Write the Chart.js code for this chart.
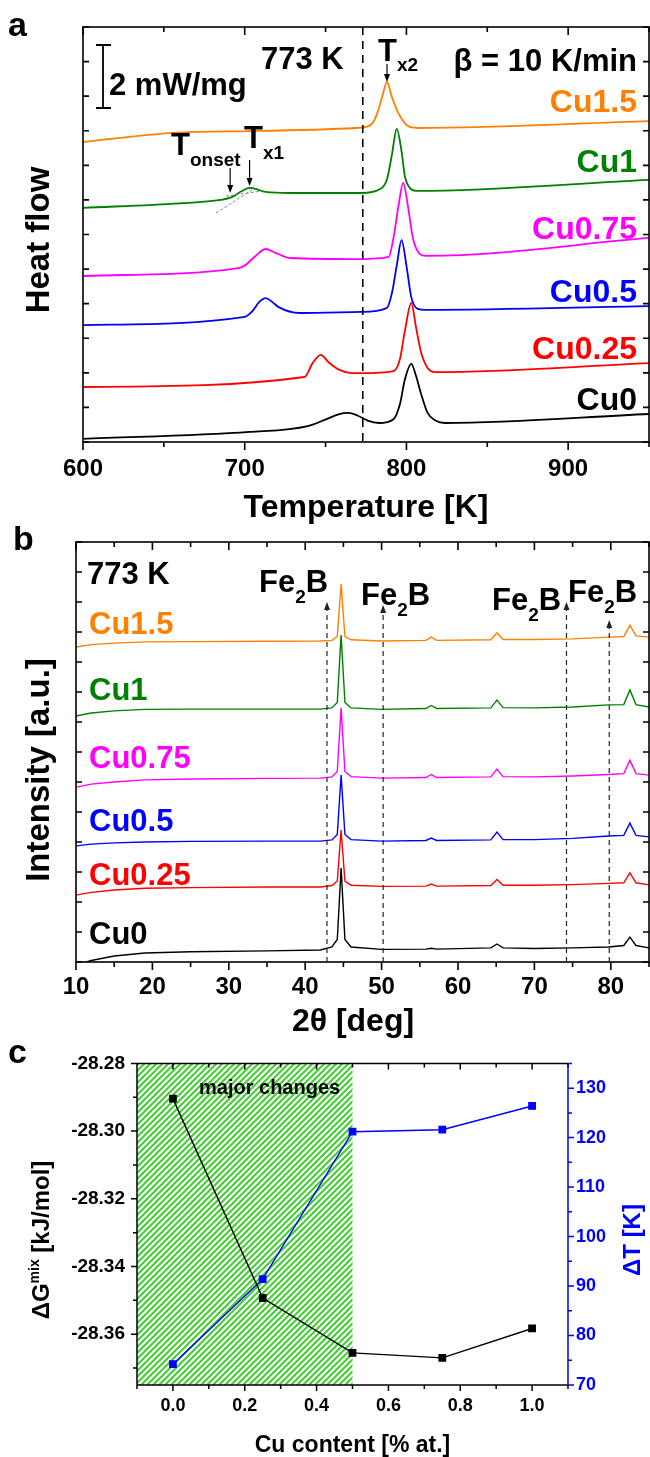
<!DOCTYPE html>
<html>
<head>
<meta charset="utf-8">
<script src="https://cdn.jsdelivr.net/npm/chart.js@4.4.1/dist/chart.umd.min.js"></script>
<style>
  body { margin: 0; background: #fff; width: 650px; height: 1457px; position: relative; overflow: hidden; }
  canvas { position: absolute; left: 0; }
  #dsc { top: 0; }
  #xrd { top: 515px; }
  #gibbs { top: 1040px; }
</style>
</head>
<body>
<canvas id="dsc" width="650" height="535"></canvas>
<canvas id="xrd" width="650" height="535"></canvas>
<canvas id="gibbs" width="650" height="417"></canvas>
<script>
// ---- panel a: DSC curves, [temperature K, heat flow (offset units)]
const dscCu15 = [[600,8.68],[656,8.94],[703,8.99],[769,9.08],[778,9.17],[782,9.51],[785,9.98],[788,10.41],[791,9.98],[795,9.51],[799,9.22],[802,9.11],[808,9.08],[950,9.28]]
const dscCu1 = [[600,6.77],[660,6.90],[685,7.00],[692,7.08],[698,7.25],[703,7.35],[708,7.30],[713,7.23],[728,7.20],[772,7.20],[784,7.32],[788,7.60],[791,8.30],[794,9.05],[797,8.40],[799,7.70],[802,7.35],[806,7.26],[950,7.58]]
const dscCu075 = [[600,4.80],[695,5.02],[700,5.10],[706,5.35],[713,5.58],[719,5.47],[728,5.32],[772,5.29],[789,5.35],[792,5.90],[795,6.80],[798,7.49],[801,6.80],[804,5.90],[808,5.45],[812,5.38],[950,5.90]]
const dscCu05 = [[600,3.38],[700,3.62],[705,3.80],[709,4.05],[713,4.16],[717,4.05],[721,3.90],[734,3.73],[772,3.76],[788,3.88],[791,4.30],[794,5.10],[797,5.84],[800,5.10],[803,4.19],[807,3.85],[812,3.82],[950,3.93]]
const dscCu025 = [[600,1.59],[737,1.88],[742,2.28],[747,2.52],[752,2.30],[758,2.10],[765,2.00],[772,1.99],[792,2.05],[796,2.40],[799,3.20],[803,4.02],[806,3.30],[809,2.60],[813,2.15],[818,2.02],[950,2.28]]
const dscCu0 = [[600,0.09],[703,0.29],[739,0.46],[751,0.67],[758,0.80],[764,0.84],[770,0.76],[776,0.62],[783,0.55],[792,0.66],[796,1.10],[799,1.80],[803,2.26],[806,1.90],[809,1.40],[813,0.85],[818,0.62],[824,0.55],[950,0.81]]
const dscTempTicks = [600, 700, 800, 900]
const annealTemp = 773

// ---- panel b: XRD patterns, 2theta and intensity (offset units)
const xrdAngles = [10, 12, 15, 19, 25, 35, 42, 43.5, 44.2, 44.7, 45.2, 46, 50, 55.8, 56.5, 57.2, 64.3, 65.1, 65.9, 70, 75, 79.7, 81.7, 82.5, 83.3, 85]
const xrdCu15 = [10.5, 10.58, 10.63, 10.67, 10.68, 10.69, 10.70, 10.72, 10.85, 12.6, 10.85, 10.74, 10.70, 10.72, 10.83, 10.72, 10.74, 10.97, 10.75, 10.75, 10.77, 10.83, 10.85, 11.23, 10.87, 10.83]
const xrdCu1 = [8.2, 8.3, 8.37, 8.42, 8.43, 8.43, 8.43, 8.47, 8.65, 10.9, 8.65, 8.47, 8.42, 8.45, 8.55, 8.45, 8.47, 8.73, 8.48, 8.47, 8.5, 8.57, 8.58, 9.07, 8.58, 8.5]
const xrdCu075 = [5.83, 5.93, 6.0, 6.07, 6.1, 6.12, 6.13, 6.17, 6.35, 8.47, 6.35, 6.18, 6.13, 6.15, 6.25, 6.15, 6.17, 6.43, 6.18, 6.17, 6.2, 6.25, 6.28, 6.73, 6.28, 6.23]
const xrdCu05 = [3.87, 3.93, 3.97, 4.0, 4.02, 4.03, 4.03, 4.07, 4.25, 6.23, 4.25, 4.08, 4.03, 4.05, 4.13, 4.05, 4.07, 4.33, 4.08, 4.08, 4.12, 4.2, 4.22, 4.63, 4.22, 4.17]
const xrdCu025 = [2.23, 2.32, 2.4, 2.46, 2.48, 2.5, 2.5, 2.55, 2.7, 4.4, 2.7, 2.56, 2.52, 2.53, 2.6, 2.53, 2.55, 2.75, 2.56, 2.56, 2.58, 2.62, 2.64, 2.97, 2.64, 2.57]
const xrdCu0 = [-0.1, 0.05, 0.2, 0.3, 0.34, 0.37, 0.4, 0.5, 0.75, 3.13, 0.75, 0.5, 0.42, 0.43, 0.46, 0.43, 0.47, 0.6, 0.47, 0.45, 0.47, 0.5, 0.55, 0.83, 0.55, 0.47]
const fe2bAngles = [42.85, 50.2, 74.2, 79.8]
const fe2bTips = [12.0, 11.9, 12.0, 11.4]
const xrdAngleTicks = [10, 20, 30, 40, 50, 60, 70, 80]

// ---- panel c: mixing enthalpy and delta T vs Cu content
const cuContent = [0, 0.25, 0.5, 0.75, 1.0]
const gibbsMix = [-28.2904, -28.3493, -28.3655, -28.3670, -28.3583]
const deltaT = [74.2, 91.4, 121.2, 121.6, 126.4]
const majorChangeRange = [-0.1, 0.5]
const cuTicks = [0, 0.2, 0.4, 0.6, 0.8, 1.0]
const gibbsTicks = [-28.36, -28.34, -28.32, -28.30, -28.28]
const deltaTTicks = [70, 80, 90, 100, 110, 120, 130]

const FONT = "'Liberation Sans', Arial, sans-serif"
Chart.defaults.font.family = FONT
Chart.defaults.font.weight = 'bold'
Chart.defaults.color = '#000'
Chart.defaults.animation = false

const ORANGE = '#ff8000', GREEN = '#008000', MAGENTA = '#ff00ff', BLUE = '#0000ff', RED = '#ff0000', BLACK = '#000000'

function range(a, b, step) {
    const out = []
    for (let v = a; v <= b + 1e-9; v += step) out.push(+v.toFixed(6))
    return out
}

function text(ctx, str, x, y, size, color = '#000', align = 'left') {
    ctx.font = `bold ${size}px ${FONT}`
    ctx.fillStyle = color
    ctx.textAlign = align
    ctx.textBaseline = 'alphabetic'
    ctx.fillText(str, x, y)
    return ctx.measureText(str).width
}

function rich(ctx, parts, x, y) {
    let cx = x
    parts.forEach(p => { cx += text(ctx, p[0], cx, y + (p[2] || 0), p[1]) })
}

function rotated(ctx, str, cx, cy, size, color = '#000') {
    ctx.save()
    ctx.translate(cx, cy)
    ctx.rotate(-Math.PI / 2)
    ctx.font = `bold ${size}px ${FONT}`
    ctx.fillStyle = color
    ctx.textAlign = 'center'
    ctx.textBaseline = 'middle'
    ctx.fillText(str, 0, 0)
    ctx.restore()
}

function arrowDown(ctx, x, yFrom, yTip, head = 6) {
    ctx.beginPath()
    ctx.moveTo(x, yFrom)
    ctx.lineTo(x, yTip - head)
    ctx.stroke()
    ctx.beginPath()
    ctx.moveTo(x, yTip)
    ctx.lineTo(x - 3, yTip - head - 2)
    ctx.lineTo(x + 3, yTip - head - 2)
    ctx.closePath()
    ctx.fill()
}

function arrowUp(ctx, x, yFrom, yTip, head = 6) {
    ctx.beginPath()
    ctx.moveTo(x, yFrom)
    ctx.lineTo(x, yTip + head)
    ctx.stroke()
    ctx.setLineDash([])
    ctx.beginPath()
    ctx.moveTo(x, yTip)
    ctx.lineTo(x - 3, yTip + head + 2)
    ctx.lineTo(x + 3, yTip + head + 2)
    ctx.closePath()
    ctx.fill()
}

// box with inward ticks on top/left/right and outward ticks at the bottom
function drawFrame(chart, xMinor, xMajor, yTicks) {
    const { ctx, chartArea: a, scales } = chart
    ctx.save()
    ctx.strokeStyle = '#000'
    ctx.lineWidth = 1.6
    ctx.strokeRect(a.left, a.top, a.right - a.left, a.bottom - a.top)
    ctx.beginPath()
    xMinor.forEach(v => {
        const px = scales.x.getPixelForValue(v)
        const len = xMajor.includes(v) ? 8 : 5
        ctx.moveTo(px, a.bottom); ctx.lineTo(px, a.bottom + len)
        ctx.moveTo(px, a.top); ctx.lineTo(px, a.top + len)
    })
    yTicks.forEach(v => {
        const py = scales.y.getPixelForValue(v)
        ctx.moveTo(a.left, py); ctx.lineTo(a.left + 6, py)
        ctx.moveTo(a.right, py); ctx.lineTo(a.right - 6, py)
    })
    ctx.stroke()
    ctx.restore()
}

function lineSet(data, color, width) {
    return {
        data: data,
        borderColor: color,
        borderWidth: width,
        pointRadius: 0,
        cubicInterpolationMode: 'monotone',
        fill: false
    }
}

function setTicks(values) {
    return scale => { scale.ticks = values.map(v => ({ value: v })) }
}

// ---------------- panel a
const dscPlugin = {
    id: 'dscDecor',
    afterDatasetsDraw(chart) {
        const { ctx, chartArea: a, scales: { x, y } } = chart
        drawFrame(chart, range(600, 950, 50), dscTempTicks, range(0, 12, 1))
        ctx.save()
        // annealing temperature line
        ctx.strokeStyle = '#000'
        ctx.lineWidth = 1.6
        ctx.setLineDash([8, 6])
        ctx.beginPath()
        ctx.moveTo(x.getPixelForValue(annealTemp), a.top)
        ctx.lineTo(x.getPixelForValue(annealTemp), a.bottom)
        ctx.stroke()
        ctx.setLineDash([])

        // scale bar 2 mW/mg
        ctx.lineWidth = 1.8
        ctx.beginPath()
        ctx.moveTo(103, 45); ctx.lineTo(103, 108)
        ctx.moveTo(96, 45); ctx.lineTo(111, 45)
        ctx.moveTo(96, 108); ctx.lineTo(111, 108)
        ctx.stroke()

        // tangent construction at onset
        ctx.strokeStyle = '#888'
        ctx.lineWidth = 1
        ctx.setLineDash([3, 2])
        ctx.beginPath()
        ctx.moveTo(216, 213); ctx.lineTo(252, 190)
        ctx.moveTo(226, 196); ctx.lineTo(262, 191)
        ctx.stroke()
        ctx.setLineDash([])

        // arrows
        ctx.strokeStyle = '#000'
        ctx.fillStyle = '#000'
        ctx.lineWidth = 1.2
        const peak = dscCu15.reduce((m, p) => p[1] > m[1] ? p : m)
        arrowDown(ctx, x.getPixelForValue(peak[0]), 64, y.getPixelForValue(peak[1]))
        arrowDown(ctx, x.getPixelForValue(691), 168, y.getPixelForValue(7.2))
        arrowDown(ctx, x.getPixelForValue(703), 160, y.getPixelForValue(7.4))

        text(ctx, 'a', 8, 36, 34)
        text(ctx, '2 mW/mg', 109, 95, 31)
        text(ctx, '773 K', 261, 69, 31)
        rich(ctx, [['T', 31], ['x2', 19, 10]], 378, 61)
        text(ctx, '\u03b2 = 10 K/min', 637, 71, 31, '#000', 'right')
        rich(ctx, [['T', 31], ['onset', 19, 11]], 171, 155)
        rich(ctx, [['T', 31], ['x1', 19, 11]], 244, 148)

        text(ctx, 'Cu1.5', 637, 112, 32, ORANGE, 'right')
        text(ctx, 'Cu1', 637, 172, 32, GREEN, 'right')
        text(ctx, 'Cu0.75', 637, 239, 32, MAGENTA, 'right')
        text(ctx, 'Cu0.5', 637, 302, 32, BLUE, 'right')
        text(ctx, 'Cu0.25', 637, 359, 32, RED, 'right')
        text(ctx, 'Cu0', 637, 410, 32, BLACK, 'right')

        rotated(ctx, 'Heat flow', 40, 240, 33)
        text(ctx, 'Temperature [K]', (a.left + a.right) / 2, 517, 32, '#000', 'center')
        ctx.restore()
    }
}

const toXY = arr => arr.map(p => ({ x: p[0], y: p[1] }))

new Chart(document.getElementById('dsc'), {
    type: 'line',
    data: {
        datasets: [
            lineSet(toXY(dscCu15), ORANGE, 1.8),
            lineSet(toXY(dscCu1), GREEN, 1.8),
            lineSet(toXY(dscCu075), MAGENTA, 1.8),
            lineSet(toXY(dscCu05), BLUE, 1.8),
            lineSet(toXY(dscCu025), RED, 1.8),
            lineSet(toXY(dscCu0), BLACK, 1.8)
        ]
    },
    options: {
        responsive: false,
        layout: { padding: { left: 83, right: 1, top: 27, bottom: 48 } },
        plugins: { legend: { display: false }, tooltip: { enabled: false } },
        scales: {
            x: {
                type: 'linear', min: 600, max: 950,
                afterBuildTicks: setTicks(dscTempTicks),
                afterFit: s => { s.height = 45 },
                grid: { display: false, drawTicks: false },
                border: { display: false },
                ticks: { font: { size: 24, weight: 'bold' }, padding: 13, maxRotation: 0 }
            },
            y: { type: 'linear', min: 0, max: 12, display: false }
        }
    },
    plugins: [dscPlugin]
})

// ---------------- panel b
const xrdPlugin = {
    id: 'xrdDecor',
    afterDatasetsDraw(chart) {
        const { ctx, chartArea: a, scales: { x, y } } = chart
        drawFrame(chart, range(10, 85, 5), xrdAngleTicks, range(0, 14, 1))
        ctx.save()
        ctx.strokeStyle = '#222'
        ctx.fillStyle = '#222'
        ctx.lineWidth = 1.2
        fe2bAngles.forEach((ang, i) => {
            ctx.setLineDash([5, 4])
            arrowUp(ctx, x.getPixelForValue(ang), a.bottom, y.getPixelForValue(fe2bTips[i]))
        })
        ctx.setLineDash([])

        text(ctx, 'b', 13, 35, 34)
        text(ctx, '773 K', 87, 69, 31)
        const fe = [[259, 77], [361, 90], [492, 95], [568, 87]]
        fe.forEach(p => rich(ctx, [['Fe', 31], ['2', 19, 11], ['B', 31]], p[0], p[1]))

        text(ctx, 'Cu1.5', 89, 119, 31, ORANGE)
        text(ctx, 'Cu1', 89, 185, 31, GREEN)
        text(ctx, 'Cu0.75', 89, 253, 31, MAGENTA)
        text(ctx, 'Cu0.5', 89, 316, 31, BLUE)
        text(ctx, 'Cu0.25', 89, 370, 31, RED)
        text(ctx, 'Cu0', 89, 429, 31, BLACK)

        rotated(ctx, 'Intensity [a.u.]', 40, 255, 33)
        text(ctx, '2\u03b8 [deg]', 353, 516, 32, '#000', 'center')
        ctx.restore()
    }
}

const xrdSeries = (vals) => xrdAngles.map((ang, i) => ({ x: ang, y: vals[i] }))

new Chart(document.getElementById('xrd'), {
    type: 'line',
    data: {
        datasets: [
            { ...lineSet(xrdSeries(xrdCu15), ORANGE, 1.4), cubicInterpolationMode: 'default', tension: 0 },
            { ...lineSet(xrdSeries(xrdCu1), GREEN, 1.4), cubicInterpolationMode: 'default', tension: 0 },
            { ...lineSet(xrdSeries(xrdCu075), MAGENTA, 1.4), cubicInterpolationMode: 'default', tension: 0 },
            { ...lineSet(xrdSeries(xrdCu05), BLUE, 1.4), cubicInterpolationMode: 'default', tension: 0 },
            { ...lineSet(xrdSeries(xrdCu025), RED, 1.4), cubicInterpolationMode: 'default', tension: 0 },
            { ...lineSet(xrdSeries(xrdCu0), BLACK, 1.4), cubicInterpolationMode: 'default', tension: 0 }
        ]
    },
    options: {
        responsive: false,
        layout: { padding: { left: 76, right: 1, top: 27, bottom: 43 } },
        plugins: { legend: { display: false }, tooltip: { enabled: false } },
        scales: {
            x: {
                type: 'linear', min: 10, max: 85,
                afterBuildTicks: setTicks(xrdAngleTicks),
                afterFit: s => { s.height = 45 },
                grid: { display: false, drawTicks: false },
                border: { display: false },
                ticks: { font: { size: 24, weight: 'bold' }, padding: 11, maxRotation: 0 }
            },
            y: { type: 'linear', min: 0, max: 14, display: false }
        }
    },
    plugins: [xrdPlugin]
})

// ---------------- panel c
function hatchPattern(ctx) {
    const c = document.createElement('canvas')
    c.width = 6; c.height = 6
    const p = c.getContext('2d')
    p.fillStyle = '#fff'
    p.fillRect(0, 0, 6, 6)
    p.strokeStyle = '#3fcf2f'
    p.lineWidth = 2
    p.beginPath()
    p.moveTo(-1, 7); p.lineTo(7, -1)
    p.moveTo(-4, 4); p.lineTo(4, -4)
    p.moveTo(2, 10); p.lineTo(10, 2)
    p.stroke()
    return ctx.createPattern(c, 'repeat')
}

const gibbsPlugin = {
    id: 'gibbsDecor',
    beforeDatasetsDraw(chart) {
        const { ctx, chartArea: a, scales: { x } } = chart
        ctx.save()
        ctx.fillStyle = hatchPattern(ctx)
        const x0 = x.getPixelForValue(majorChangeRange[0]), x1 = x.getPixelForValue(majorChangeRange[1])
        ctx.fillRect(x0, a.top, x1 - x0, a.bottom - a.top)
        ctx.restore()
    },
    afterDatasetsDraw(chart) {
        const { ctx, chartArea: a, scales: { x, yG, yT } } = chart
        ctx.save()
        ctx.lineWidth = 1.5
        ctx.strokeStyle = '#000'
        ctx.beginPath()
        ctx.moveTo(a.right, a.top); ctx.lineTo(a.left, a.top); ctx.lineTo(a.left, a.bottom); ctx.lineTo(a.right, a.bottom)
        range(-0.1, 1.1, 0.1).forEach(v => {
            const px = x.getPixelForValue(v)
            const len = cuTicks.some(t => Math.abs(t - v) < 1e-6) ? 6 : 4
            ctx.moveTo(px, a.bottom); ctx.lineTo(px, a.bottom + len)
            ctx.moveTo(px, a.top); ctx.lineTo(px, a.top + len)
        })
        range(-28.37, -28.28, 0.01).forEach(v => {
            const py = yG.getPixelForValue(v)
            const len = gibbsTicks.some(t => Math.abs(t - v) < 1e-6) ? 6 : 4
            ctx.moveTo(a.left, py); ctx.lineTo(a.left - len, py)
        })
        ctx.stroke()
        ctx.strokeStyle = BLUE
        ctx.beginPath()
        ctx.moveTo(a.right, a.top); ctx.lineTo(a.right, a.bottom)
        range(70, 135, 5).forEach(v => {
            const py = yT.getPixelForValue(v)
            const len = v % 10 === 0 ? 6 : 4
            ctx.moveTo(a.right, py); ctx.lineTo(a.right + len, py)
        })
        ctx.stroke()

        text(ctx, 'c', 8, 23, 34)
        text(ctx, 'major changes', 199, 54, 20)
        // left axis title with superscript
        ctx.translate(40, 200)
        ctx.rotate(-Math.PI / 2)
        ctx.font = `bold 24px ${FONT}`
        const w1 = ctx.measureText('\u0394G').width
        ctx.font = `bold 14px ${FONT}`
        const w2 = ctx.measureText('mix').width
        ctx.font = `bold 24px ${FONT}`
        const w3 = ctx.measureText(' [kJ/mol]').width
        let sx = -(w1 + w2 + w3) / 2
        ctx.textBaseline = 'middle'
        sx += text(ctx, '\u0394G', sx, 9, 24)
        sx += text(ctx, 'mix', sx, -1, 14)
        text(ctx, ' [kJ/mol]', sx, 9, 24)
        ctx.setTransform(1, 0, 0, 1, 0, 0)
        rotated(ctx, '\u0394T [K]', 633, 200, 24, BLUE)
        text(ctx, 'Cu content [% at.]', (a.left + a.right) / 2, 412, 23, '#000', 'center')
        ctx.restore()
    }
}

new Chart(document.getElementById('gibbs'), {
    type: 'line',
    data: {
        datasets: [
            {
                data: cuContent.map((c, i) => ({ x: c, y: gibbsMix[i] })),
                yAxisID: 'yG', borderColor: BLACK, backgroundColor: BLACK, borderWidth: 1.4,
                pointStyle: 'rect', pointRadius: 4.5, tension: 0
            },
            {
                data: cuContent.map((c, i) => ({ x: c, y: deltaT[i] })),
                yAxisID: 'yT', borderColor: BLUE, backgroundColor: BLUE, borderWidth: 1.4,
                pointStyle: 'rect', pointRadius: 4.5, tension: 0
            }
        ]
    },
    options: {
        responsive: false,
        layout: { padding: { left: 0, right: 0, top: 18, bottom: 32 } },
        plugins: { legend: { display: false }, tooltip: { enabled: false } },
        scales: {
            x: {
                type: 'linear', min: -0.1, max: 1.1,
                afterBuildTicks: setTicks(cuTicks),
                afterFit: s => { s.height = 40 },
                grid: { display: false, drawTicks: false },
                border: { display: false },
                ticks: { font: { size: 18, weight: 'bold' }, padding: 10, maxRotation: 0, callback: v => v.toFixed(1) }
            },
            yG: {
                type: 'linear', position: 'left', min: -28.375, max: -28.28,
                afterBuildTicks: setTicks(gibbsTicks),
                afterFit: s => { s.width = 137 },
                grid: { display: false, drawTicks: false },
                border: { display: false },
                ticks: { font: { size: 19, weight: 'bold' }, padding: 12, callback: v => v.toFixed(2) }
            },
            yT: {
                type: 'linear', position: 'right', min: 70, max: 135,
                afterBuildTicks: setTicks(deltaTTicks),
                afterFit: s => { s.width = 82 },
                grid: { display: false, drawTicks: false },
                border: { display: false },
                ticks: { font: { size: 18, weight: 'bold' }, color: BLUE, padding: 8 }
            }
        }
    },
    plugins: [gibbsPlugin]
})
</script>
</body>
</html>
